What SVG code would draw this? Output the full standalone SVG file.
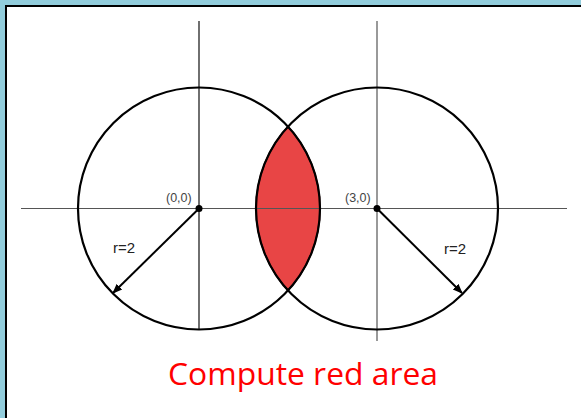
<svg xmlns="http://www.w3.org/2000/svg" width="581" height="418" viewBox="0 0 581 418">
<style>
.axis{stroke:#555;stroke-width:1.2;fill:none}
.vaxis{stroke:#222;stroke-width:1.3;fill:none}
.circ{stroke:#000;stroke-width:2.2;fill:none}
.rad{stroke:#000;stroke-width:2;fill:none}
.coord{font-family:"Liberation Sans",Arial,sans-serif;font-size:12.5px;fill:#444}
.rlab{font-family:"Liberation Sans",Arial,sans-serif;font-size:15px;fill:#222}
.title{font-family:"Open Sans","Noto Sans",sans-serif;font-size:31px;fill:#ff0000}
</style>
<defs>
<marker id="ah" markerWidth="10" markerHeight="10" refX="9" refY="5" orient="auto" markerUnits="userSpaceOnUse">
<path d="M0,1 L10,5 L0,9 Z" fill="#000"/>
</marker>
</defs>
<rect x="0" y="0" width="581" height="418" fill="#92CDDC"/>
<rect x="6" y="6" width="580" height="417" fill="#fff" stroke="#000" stroke-width="2"/>
<g id="lens">
<path d="M288,126.5 A121,121 0 0 1 288,290.5 A121,121 0 0 1 288,126.5 Z" fill="#E84545" stroke="#5a0000" stroke-width="1.5"/>
</g>
<g id="axes">
<line class="axis" x1="21" y1="208.5" x2="567" y2="208.5"/>
<line class="vaxis" x1="199" y1="21" x2="199" y2="329"/>
<line class="axis" x1="377" y1="21" x2="377" y2="341"/>
</g>
<g id="circle-left">
<circle class="circ" cx="199" cy="208.5" r="121"/>
<circle cx="199" cy="208.5" r="3.5" fill="#000"/>
<text class="coord" x="166" y="202">(0,0)</text>
</g>
<g id="circle-right">
<circle class="circ" cx="377" cy="208.5" r="121"/>
<circle cx="377" cy="208.5" r="3.5" fill="#000"/>
<text class="coord" x="345" y="202">(3,0)</text>
</g>
<g id="connectors">
<line class="rad" x1="199" y1="208.5" x2="113" y2="293" marker-end="url(#ah)"/>
<line class="rad" x1="377" y1="208.5" x2="462" y2="293" marker-end="url(#ah)"/>
</g>
<text class="rlab" x="113" y="253">r=2</text>
<text class="rlab" x="444" y="254">r=2</text>
<text class="title" x="168" y="385" textLength="270" lengthAdjust="spacingAndGlyphs">Compute red area</text>
</svg>
